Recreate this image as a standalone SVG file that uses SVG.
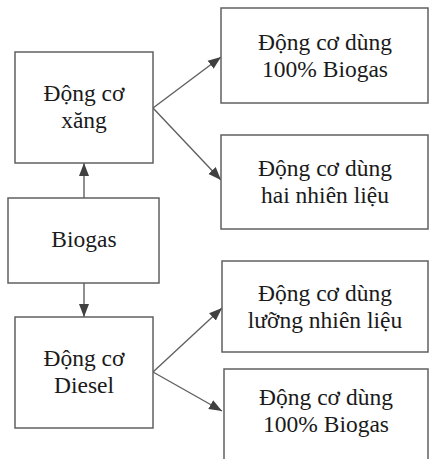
<svg xmlns="http://www.w3.org/2000/svg" width="430" height="459" viewBox="0 0 430 459">
  <style>
    .box { fill: #ffffff; stroke: #606060; stroke-width: 1.5; }
    .lbl { font-family: 'Liberation Serif', 'DejaVu Serif', serif; font-size: 23.5px; fill: #1a1a1a; text-anchor: middle; }
    .link { stroke: #606060; stroke-width: 1.4; fill: none; marker-end: url(#head); }
  </style>
  <defs>
    <marker id="head" markerUnits="userSpaceOnUse" markerWidth="14" markerHeight="12" refX="13" refY="6" orient="auto">
      <path d="M0,1 L13,6 L0,11 Z" fill="#404040"/>
    </marker>
  </defs>
  <rect width="430" height="459" fill="#ffffff"/>

  <g id="connectors">
    <line class="link" x1="84" y1="198" x2="84" y2="163"/>
    <line class="link" x1="84" y1="283" x2="84" y2="317"/>
    <line class="link" x1="153" y1="108" x2="221" y2="57"/>
    <line class="link" x1="153" y1="108" x2="221" y2="180"/>
    <line class="link" x1="153" y1="372" x2="222" y2="308"/>
    <line class="link" x1="153" y1="372" x2="222" y2="411"/>
  </g>

  <g id="petrol-engine">
    <rect class="box" x="15" y="52" width="138" height="111"/>
    <text class="lbl" x="84" y="101">Động cơ</text>
    <text class="lbl" x="84" y="128">xăng</text>
  </g>

  <g id="biogas">
    <rect class="box" x="8" y="198" width="151" height="85"/>
    <text class="lbl" x="84" y="247">Biogas</text>
  </g>

  <g id="diesel-engine">
    <rect class="box" x="15" y="317" width="138" height="111"/>
    <text class="lbl" x="84" y="366">Động cơ</text>
    <text class="lbl" x="84" y="393">Diesel</text>
  </g>

  <g id="petrol-full-biogas">
    <rect class="box" x="221" y="8" width="207" height="95"/>
    <text class="lbl" x="325" y="50">Động cơ dùng</text>
    <text class="lbl" x="325" y="77">100% Biogas</text>
  </g>

  <g id="petrol-dual-fuel">
    <rect class="box" x="221" y="135" width="207" height="94"/>
    <text class="lbl" x="325" y="176">Động cơ dùng</text>
    <text class="lbl" x="325" y="203">hai nhiên liệu</text>
  </g>

  <g id="diesel-dual-fuel">
    <rect class="box" x="222" y="261" width="206" height="91"/>
    <text class="lbl" x="325" y="301">Động cơ dùng</text>
    <text class="lbl" x="325" y="328">lưỡng nhiên liệu</text>
  </g>

  <g id="diesel-full-biogas">
    <rect class="box" x="224" y="369" width="204" height="100"/>
    <text class="lbl" x="326" y="405">Động cơ dùng</text>
    <text class="lbl" x="326" y="432">100% Biogas</text>
  </g>
</svg>
